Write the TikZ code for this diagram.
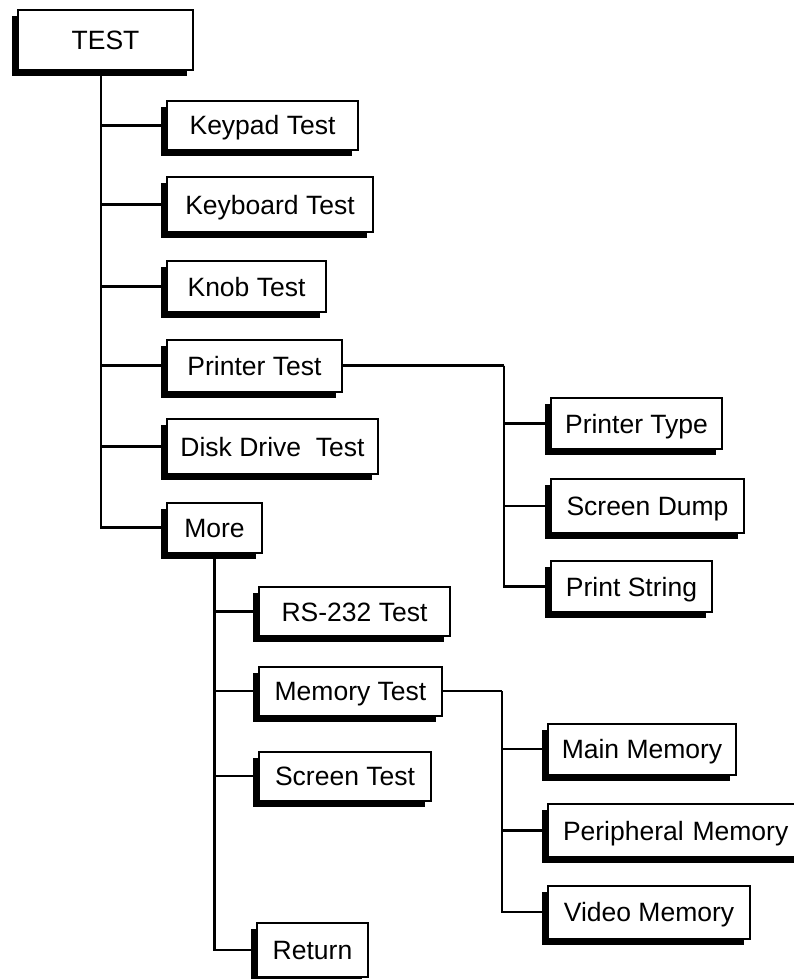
\documentclass[tikz,border=0pt]{standalone}
\usepackage{fontspec}
\setmainfont{Liberation Sans}
\usetikzlibrary{positioning,shadows}

\begin{document}
\begin{tikzpicture}[x=1pt,y=-1pt,
  menubox/.style={draw,fill=white,line width=2pt,inner sep=0pt,
    font=\fontsize{26.5}{31}\selectfont,text height=19pt,text depth=0pt,
    drop shadow={shadow xshift=-6pt,shadow yshift=-6pt,fill=black,opacity=1}},
  link/.style={line width=2.4pt}]
\useasboundingbox (0,0) rectangle (793,979);
\node[menubox,minimum width=175,minimum height=60] (test) at (105.5,40) {TEST};
\node[menubox,minimum width=191,minimum height=49] (keypad) at (262.5,125.5) {Keypad Test};
\node[menubox,minimum width=206,minimum height=55] (keyboard) at (270,204.5) {Keyboard Test};
\node[menubox,minimum width=159,minimum height=51] (knob) at (246.5,286.5) {Knob Test};
\node[menubox,minimum width=175,minimum height=52] (printer) at (254.5,365.5) {Printer Test};
\node[menubox,minimum width=211,minimum height=55] (disk) at (272.5,446.5) {Disk Drive\ \ Test};
\node[menubox,minimum width=95,minimum height=50] (more) at (214.5,527.5) {More};
\node[menubox,minimum width=191,minimum height=49] (rs) at (354.5,611.5) {RS-232 Test};
\node[menubox,minimum width=183,minimum height=49] (memory) at (350.5,691) {Memory Test};
\node[menubox,minimum width=172,minimum height=49] (screen) at (345,776) {Screen Test};
\node[menubox,minimum width=111,minimum height=54] (return) at (312.5,950) {Return};
\node[menubox,minimum width=171,minimum height=51] (ptype) at (636.5,423.5) {Printer Type};
\node[menubox,minimum width=193,minimum height=54] (sdump) at (647.5,506) {Screen Dump};
\node[menubox,minimum width=161,minimum height=51] (pstring) at (631.5,586.5) {Print String};
\node[menubox,minimum width=188,minimum height=51] (mainmem) at (642,749) {Main Memory};
\node[menubox,minimum width=256,minimum height=53,text width=226,align=left] (perimem) at (676,830.5) {Peripheral Memory};
\node[menubox,minimum width=202,minimum height=53] (videomem) at (649,912) {Video Memory};
\coordinate (pj) at ([xshift=161]printer.east);
\coordinate (mj) at ([xshift=59]memory.east);
\foreach \n in {keypad,keyboard,knob,printer,disk,more}
  \draw[link] ([xshift=-4.5]test.south) |- (\n);
\foreach \n in {rs,memory,screen,return}
  \draw[link] (more.south) |- (\n);
\draw[link] (printer.east) -- (pj);
\foreach \n in {ptype,sdump,pstring}
  \draw[link] (pj) |- (\n);
\draw[link] (memory.east) -- (mj);
\foreach \n in {mainmem,perimem,videomem}
  \draw[link] (mj) |- (\n);
\end{tikzpicture}
\end{document}
